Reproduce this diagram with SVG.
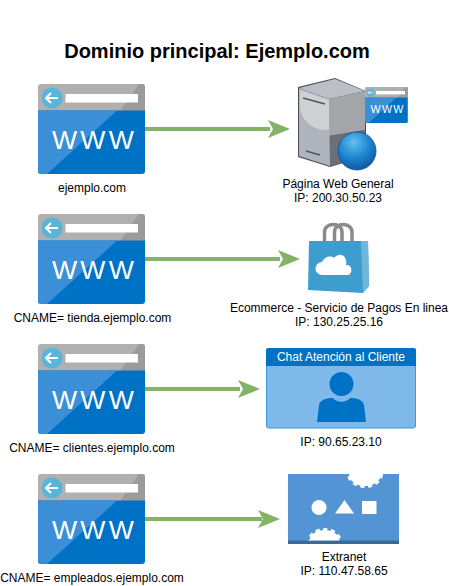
<svg xmlns="http://www.w3.org/2000/svg" xmlns:xlink="http://www.w3.org/1999/xlink" width="449" height="586" viewBox="0 0 449 586">
<style>
text{font-family:"Liberation Sans",Arial,sans-serif;font-size:12px;fill:#000;text-anchor:middle}
.title{font-size:20px;font-weight:bold}
.www{fill:#fff;font-size:25px}
.conn{stroke:#82b366;stroke-width:4;fill:none}
.head{fill:#82b366}
.gear{fill:#fff;stroke:#fff;stroke-width:4;stroke-dasharray:4 3.500}
</style>
<defs>
<radialGradient id="globe" cx=".42" cy=".28" r=".8">
<stop offset="0" stop-color="#63c0ee"/><stop offset=".5" stop-color="#1f86d0"/><stop offset="1" stop-color="#0a4f98"/>
</radialGradient>
<clipPath id="extClip"><rect x="288" y="474" width="111" height="66.500"/></clipPath>
<g id="web">
<path d="M3 0H104a3 3 0 0 1 3 3V27H0V3a3 3 0 0 1 3-3z" fill="#b0b0b0"/>
<path d="M107 3V27H82L101 0h3a3 3 0 0 1 3 3z" fill="#9b9b9b"/>
<path d="M0 26.500H107V87a3 3 0 0 1-3 3H3a3 3 0 0 1-3-3z" fill="#0072c6"/>
<path d="M0 26.500H79L9 90H3a3 3 0 0 1-3-3z" fill="#3a8fd6"/>
<circle cx="14" cy="14" r="10.500" fill="#59b4d9"/>
<path d="M8 14H20M13 9l-5 5 5 5" fill="none" stroke="#fff" stroke-width="2"/>
<rect x="27.500" y="10" width="72.500" height="8.500" fill="#fff"/>
<text class="www" x="56.500" y="65" textLength="85" lengthAdjust="spacingAndGlyphs" style="letter-spacing:3px">WWW</text>
</g>
</defs>
<text class="title" x="217" y="58">Dominio principal: Ejemplo.com</text>
<g id="connectors">
<path class="conn" d="M145 129H270"/><path class="head" d="M268 120L290 129L268 138L273 129z"/>
<path class="conn" d="M145 259H280"/><path class="head" d="M278 250L300 259L278 268L283 259z"/>
<path class="conn" d="M145 389H240"/><path class="head" d="M238 380L260 389L238 398L243 389z"/>
<path class="conn" d="M145 519H262"/><path class="head" d="M258 510L280 519L258 528L263 519z"/>
</g>
<g id="site1"><use href="#web" xlink:href="#web" x="38" y="84"/><text x="92" y="192">ejemplo.com</text></g>
<g id="site2"><use href="#web" xlink:href="#web" x="38" y="214"/><text x="92.500" y="322">CNAME= tienda.ejemplo.com</text></g>
<g id="site3"><use href="#web" xlink:href="#web" x="38" y="344"/><text x="92" y="452">CNAME= clientes.ejemplo.com</text></g>
<g id="site4"><use href="#web" xlink:href="#web" x="38" y="474"/><text x="92" y="582">CNAME= empleados.ejemplo.com</text></g>
<g id="server">
<path d="M298 87L335 78L366 91V156L330 167L298 157z" fill="#4a4f57"/>
<path d="M299 88L335 79L365 91L329 99z" fill="#bcbfc6"/>
<path d="M329 99L365 91V130L329 136z" fill="#a3a5a8"/>
<path d="M329 136L365 130V156L330 166z" fill="#6c6f75"/>
<path d="M299 88L329 99L330 166L299 156z" fill="#aeb3bd"/>
<path d="M300 90L329 100V130C314 131 302 122 300 108z" fill="#cfd1d5"/>
<path d="M303 98L325 104" stroke="#555" stroke-width="1.500"/>
<path d="M306 151L320 155" stroke="#555" stroke-width="1.500"/>
<circle cx="357" cy="151" r="19" fill="url(#globe)" stroke="#0a4f8c" stroke-width=".800"/>
<g transform="translate(365 87) scale(.4)"><use href="#web" xlink:href="#web"/></g>
<text x="338" y="188">Página Web General</text><text x="338" y="202">IP: 200.30.50.23</text>
</g>
<g id="shop">
<path d="M324.500 241V232C324.500 222 342 222 342 232V241M334.500 241V232C334.500 222 352 222 352 232V241" fill="none" stroke="#8a8a8a" stroke-width="3.500"/>
<path d="M309 241H368L369 286L363 293L308 290z" fill="#3c9dce"/>
<path d="M361 241H368L369 286L363 293z" fill="#6fb6da"/>
<path d="M322 275A6.500 6.500 0 0 1 322 262C324 257 331 255 334 258C340 251 348 256 346 265C353 264 353 275 347 275z" fill="#fff"/>
<text x="339" y="312">Ecommerce - Servicio de Pagos En linea</text><text x="339" y="326">IP: 130.25.25.16</text>
</g>
<g id="chat">
<rect x="266.500" y="349" width="149" height="79" rx="2" fill="#7fb9ea" stroke="#3d97e0"/>
<path d="M268 348H414a2 2 0 0 1 2 2V366H266V350a2 2 0 0 1 2-2z" fill="#0072c6"/>
<text x="341" y="360.500" style="fill:#fff;font-size:12px">Chat Atención al Cliente</text>
<circle cx="341.500" cy="384" r="12" fill="#0072c6"/>
<path d="M317 422L319 405C320 399 328 398 333 398C337 403 346 403 350 398C355 398 363 399 364 405L366 422z" fill="#0072c6"/>
<text x="341" y="446">IP: 90.65.23.10</text>
</g>
<g id="extranet">
<rect x="288" y="474" width="111" height="70" fill="#5294d4"/>
<rect x="288" y="540.500" width="111" height="3.500" fill="#3b6a96"/>
<g clip-path="url(#extClip)">
<ellipse class="gear" cx="365" cy="474" rx="16" ry="12"/>
<ellipse class="gear" cx="324.500" cy="541" rx="15" ry="11"/>
</g>
<circle cx="319" cy="507.500" r="7.500" fill="#fff"/>
<path d="M335 513.500L344.500 500L354 513.500z" fill="#fff"/>
<rect x="362" y="501" width="14.500" height="13" fill="#fff"/>
<text x="344" y="561">Extranet</text><text x="344" y="575">IP: 110.47.58.65</text>
</g>
</svg>
